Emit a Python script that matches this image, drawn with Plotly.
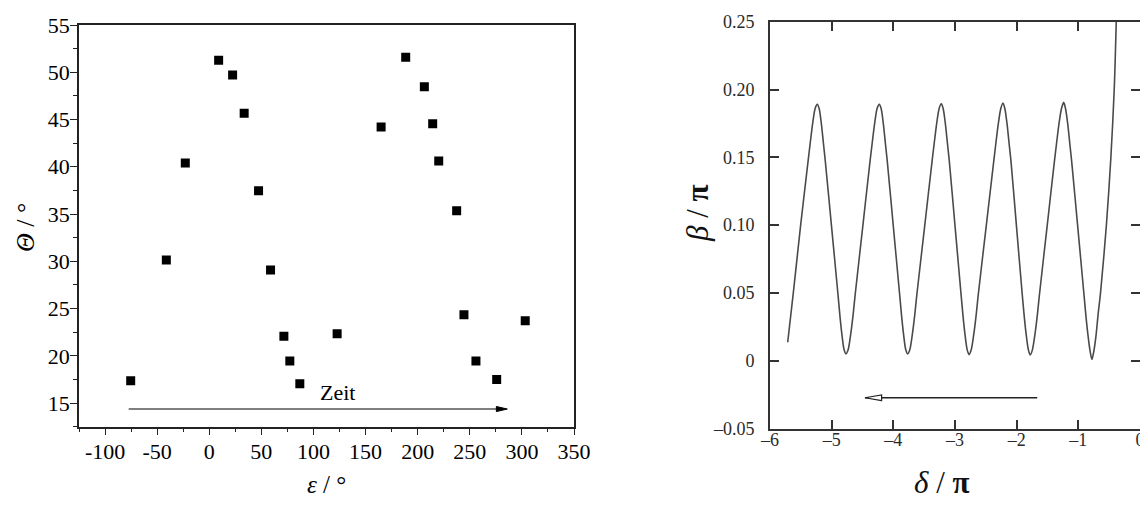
import plotly.graph_objects as go

# ---------------- data: left panel (measured points) ----------------
eps_deg = [-75.4, -41.2, -23.0, 9.0, 22.4, 33.5, 47.3, 58.8, 71.6, 77.3, 86.9,
           122.7, 164.9, 188.5, 206.4, 214.4, 220.2, 237.4, 244.4, 255.9, 275.8, 303.2]
theta_deg = [17.36, 30.13, 40.4, 51.26, 49.7, 45.66, 37.47, 29.07, 22.06, 19.44, 17.04,
             22.33, 44.2, 51.58, 48.47, 44.56, 40.6, 35.35, 24.35, 19.44, 17.5, 23.71]

left_x_ticks = [-100, -50, 0, 50, 100, 150, 200, 250, 300, 350]
left_x_labels = ["-100", "-50", "0", "50", "100", "150", "200", "250", "300", "350"]
left_y_ticks = [15, 20, 25, 30, 35, 40, 45, 50, 55]
left_y_labels = ["15", "20", "25", "30", "35", "40", "45", "50", "55"]

# time arrow ("Zeit") in data units of the left panel
zeit_x_start = -77.3
zeit_x_tip = 286.0
zeit_head_len = 10.5
zeit_head_half = 0.27
zeit_y = 14.37
zeit_label_x = 123.0
zeit_label_y = 16.1

# ---------------- data: right panel (curve) ----------------
delta_pi = [-5.713, -5.622, -5.503, -5.383, -5.349, -5.308, -5.268, -5.233,
            -5.203, -5.168, -5.133, -5.103, -5.000, -4.898, -4.868, -4.833, -4.798, -4.768,
            -4.733, -4.693, -4.652, -4.618, -4.498, -4.378, -4.344, -4.303, -4.263, -4.228,
            -4.198, -4.163, -4.128, -4.098, -3.998, -3.898, -3.868, -3.833, -3.798, -3.768,
            -3.733, -3.693, -3.652, -3.618, -3.495, -3.372, -3.338, -3.297, -3.257, -3.222,
            -3.192, -3.157, -3.122, -3.092, -2.997, -2.902, -2.872, -2.837, -2.802, -2.772,
            -2.737, -2.697, -2.656, -2.622, -2.497, -2.372, -2.338, -2.297, -2.257, -2.222,
            -2.192, -2.157, -2.122, -2.092, -2.001, -1.910, -1.880, -1.845, -1.810, -1.780,
            -1.745, -1.705, -1.664, -1.630, -1.509, -1.388, -1.354, -1.313, -1.273, -1.238,
            -1.208, -1.173, -1.138, -1.108, -1.008, -0.909, -0.879, -0.844, -0.809, -0.779,
            -0.745, -0.712, -0.680, -0.640, -0.545, -0.472, -0.418, -0.385]
beta_pi = [0.0136, 0.050, 0.100, 0.147, 0.160, 0.175, 0.186, 0.189,
           0.186, 0.175, 0.160, 0.147, 0.098, 0.049, 0.034, 0.019, 0.008, 0.005,
           0.008, 0.019, 0.034, 0.049, 0.098, 0.147, 0.160, 0.175, 0.186, 0.189,
           0.186, 0.175, 0.160, 0.147, 0.098, 0.049, 0.034, 0.019, 0.008, 0.005,
           0.008, 0.019, 0.034, 0.049, 0.098, 0.147, 0.160, 0.175, 0.186, 0.1895,
           0.186, 0.175, 0.160, 0.147, 0.098, 0.049, 0.034, 0.019, 0.008, 0.0045,
           0.008, 0.019, 0.034, 0.049, 0.098, 0.147, 0.160, 0.175, 0.186, 0.190,
           0.186, 0.175, 0.160, 0.147, 0.098, 0.049, 0.034, 0.019, 0.008, 0.0042,
           0.008, 0.019, 0.034, 0.049, 0.098, 0.147, 0.160, 0.175, 0.186, 0.1905,
           0.186, 0.175, 0.160, 0.147, 0.098, 0.049, 0.034, 0.019, 0.007, 0.001,
           0.008, 0.019, 0.034, 0.050, 0.100, 0.150, 0.200, 0.250]

right_x_ticks = [-6, -5, -4, -3, -2, -1, 0]
right_x_labels = ["\u20136", "\u20135", "\u20134", "\u20133", "\u20132", "\u20131", "0"]
right_y_ticks = [-0.05, 0, 0.05, 0.10, 0.15, 0.20, 0.25]
right_y_labels = ["\u20130.05", "0", "0.05", "0.10", "0.15", "0.20", "0.25"]

# direction arrow in the right panel (data units)
dir_x_start = -1.667
dir_x_tip = -4.46
dir_head_len = 0.27
dir_head_half = 0.0021
dir_y = -0.0273

SERIF = "Liberation Serif, 'Times New Roman', serif"

# page body has an 8px margin; the figure is sized and laid out to compensate
W, H, OFF = 1140, 499, 8


def px(x):
    return (x - OFF) / W


def py(y):
    return 1 - (y - OFF) / H


fig = go.Figure()

fig.add_trace(go.Scatter(
    x=eps_deg, y=theta_deg, mode="markers",
    marker=dict(symbol="square", size=9, color="black", line=dict(width=0)),
    xaxis="x", yaxis="y", showlegend=False, hoverinfo="x+y"))

fig.add_trace(go.Scatter(
    x=delta_pi, y=beta_pi, mode="lines",
    line=dict(color="#4a4a4a", width=1.6, shape="spline", smoothing=0.8),
    xaxis="x2", yaxis="y2", showlegend=False))

shapes = [
    # Zeit arrow
    dict(type="line", xref="x", yref="y", x0=zeit_x_start, x1=zeit_x_tip - zeit_head_len * 0.5,
         y0=zeit_y, y1=zeit_y, line=dict(color="#555555", width=1.5)),
    dict(type="path", xref="x", yref="y",
         path=f"M {zeit_x_tip - zeit_head_len} {zeit_y - zeit_head_half} L {zeit_x_tip} {zeit_y} "
              f"L {zeit_x_tip - zeit_head_len} {zeit_y + zeit_head_half} Z",
         fillcolor="black", line=dict(color="black", width=1)),
    # direction arrow right panel
    dict(type="line", xref="x2", yref="y2", x0=dir_x_start, x1=dir_x_tip,
         y0=dir_y, y1=dir_y, line=dict(color="#222222", width=1.6)),
    dict(type="path", xref="x2", yref="y2",
         path=f"M {dir_x_tip + dir_head_len} {dir_y - dir_head_half} L {dir_x_tip} {dir_y} "
              f"L {dir_x_tip + dir_head_len} {dir_y + dir_head_half} Z",
         fillcolor="white", line=dict(color="#222222", width=1.2)),
]

annotations = [
    dict(text="Zeit", x=zeit_label_x, y=zeit_label_y, xref="x", yref="y",
         xanchor="center", yanchor="middle",
         showarrow=False, font=dict(family=SERIF, size=22, color="black")),
    dict(text="<i>\u0398</i> / \u00b0", x=px(25), y=py(228), xref="paper", yref="paper",
         xanchor="center", yanchor="middle",
         textangle=-90, showarrow=False, font=dict(family=SERIF, size=26, color="black")),
    dict(text="<i>\u03b5</i> / \u00b0", x=px(326), y=py(484), xref="paper", yref="paper",
         xanchor="center", yanchor="middle",
         showarrow=False, font=dict(family=SERIF, size=25, color="black")),
    dict(text="<i>\u03b2</i> / <b>\u03c0</b>", x=px(697), y=py(213), xref="paper", yref="paper",
         xanchor="center", yanchor="middle",
         textangle=-90, showarrow=False, font=dict(family=SERIF, size=31, color="#111111")),
    dict(text="<i>\u03b4</i> / <b>\u03c0</b>", x=px(942), y=py(482), xref="paper", yref="paper",
         xanchor="center", yanchor="middle",
         showarrow=False, font=dict(family=SERIF, size=31, color="#111111")),
]

fig.update_layout(
    template="none",
    width=W, height=H, autosize=False,
    margin=dict(l=0, r=0, t=0, b=0, pad=0),
    paper_bgcolor="white", plot_bgcolor="white",
    font=dict(family=SERIF, color="black"),
    shapes=shapes, annotations=annotations,
    xaxis=dict(domain=[px(79), px(574)], range=[-125, 350], tickvals=left_x_ticks,
               ticktext=left_x_labels, showgrid=False, zeroline=False, automargin=False,
               showline=True, linecolor="#222222", linewidth=1.5, mirror=True,
               ticks="outside", ticklen=7, tickwidth=1.3, tickcolor="#222222",
               ticklabelstandoff=-3,
               minor=dict(dtick=25, tick0=0, ticks="outside", ticklen=4, tickwidth=1.2,
                          tickcolor="#222222", showgrid=False),
               tickfont=dict(family=SERIF, size=22, color="black"), anchor="y"),
    yaxis=dict(domain=[py(426.7), py(25)], range=[12.5, 55], tickvals=left_y_ticks,
               ticktext=left_y_labels, showgrid=False, zeroline=False, automargin=False,
               showline=True, linecolor="#222222", linewidth=1.5, mirror=True,
               ticks="outside", ticklen=7, tickwidth=1.3, tickcolor="#222222",
               ticklabelstandoff=-4,
               minor=dict(dtick=2.5, tick0=0, ticks="outside", ticklen=4, tickwidth=1.2,
                          tickcolor="#222222", showgrid=False),
               tickfont=dict(family=SERIF, size=22, color="black"), anchor="x"),
    xaxis2=dict(domain=[px(770), px(1140)], range=[-6, 0], tickvals=right_x_ticks,
                ticktext=right_x_labels, showgrid=False, zeroline=False, automargin=False,
                showline=True, linecolor="#333333", linewidth=2, mirror="allticks",
                ticks="inside", ticklen=9, tickwidth=2, tickcolor="#333333",
                ticklabelstandoff=-6,
                tickfont=dict(family=SERIF, size=18, color="#2a2a2a"), anchor="y2"),
    yaxis2=dict(domain=[py(428.5), py(21.7)], range=[-0.05, 0.25], tickvals=right_y_ticks,
                ticktext=right_y_labels, showgrid=False, zeroline=False, automargin=False,
                showline=True, linecolor="#333333", linewidth=2, mirror="allticks",
                ticks="inside", ticklen=9, tickwidth=2, tickcolor="#333333",
                ticklabelstandoff=10,
                tickfont=dict(family=SERIF, size=18, color="#2a2a2a"), anchor="x2"),
)

fig.write_html("out.html")
